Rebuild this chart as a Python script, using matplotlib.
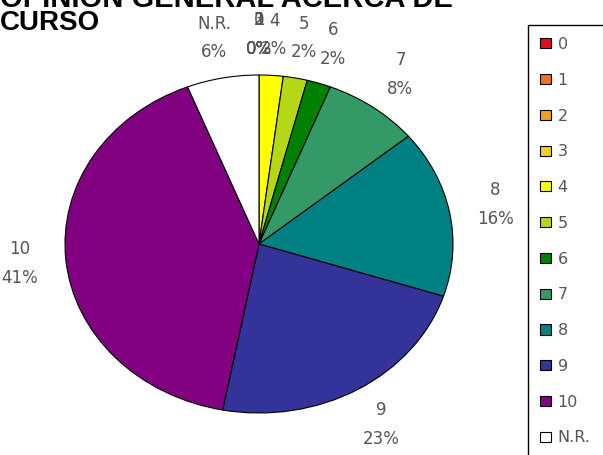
import matplotlib
matplotlib.use("Agg")
import matplotlib.pyplot as plt

# survey answers: score given to the course and share of answers (%)
categories = ["0", "1", "2", "3", "4", "5", "6", "7", "8", "9", "10", "N.R."]
percent = [0, 0, 0, 0, 2, 2, 2, 8, 16, 23, 41, 6]
colors = ["#e0101a", "#f07020", "#f0a020", "#f0d020", "#ffff00", "#b4d818",
          "#008000", "#339966", "#008080", "#333399", "#800080", "#ffffff"]

W, H = 603, 455
fig = plt.figure(figsize=(W / 100, H / 100), dpi=100)

# pie area in pixels (the pie is drawn a bit wider than tall)
left, top, pw, ph = 65, 75, 388, 338
ax = fig.add_axes([left / W, 1 - (top + ph) / H, pw / W, ph / H])

labels = [f"{c}\n{p}%" for c, p in zip(categories, percent)]
wedges, texts = ax.pie(percent, colors=colors, labels=labels, startangle=90,
                       counterclock=False, labeldistance=1.24,
                       wedgeprops=dict(edgecolor="black", linewidth=0.8),
                       textprops=dict(fontsize=12, color="#555555",
                                      family="DejaVu Sans", linespacing=1.75))
for t in texts:
    t.set_ha("center")
    t.set_va("center")
ax.set_aspect("auto")
ax.set_xlim(-1, 1)
ax.set_ylim(-1, 1)

fig.text(0, 1 - 7 / H, "OPINION GENERAL ACERCA DE", fontsize=21,
         fontweight="bold", family="Liberation Sans", va="baseline", ha="left")
fig.text(0, 1 - 30 / H, "CURSO", fontsize=20, fontweight="bold",
         family="Liberation Sans", va="baseline", ha="left")

leg = fig.legend(wedges, categories, loc="upper left",
                 bbox_to_anchor=(528 / W, 0, 0.3, 1 - 25 / H),
                 bbox_transform=fig.transFigure, mode="expand",
                 borderaxespad=0, frameon=True, fancybox=False,
                 edgecolor="black", framealpha=1, borderpad=0.75,
                 handlelength=0.7, handleheight=0.6, handletextpad=0.4,
                 labelspacing=1.3, prop=dict(family="DejaVu Sans", size=11.5))
for t in leg.get_texts():
    t.set_color("#555555")
leg.get_frame().set_linewidth(1.0)

fig.savefig("out.png", dpi=100)
